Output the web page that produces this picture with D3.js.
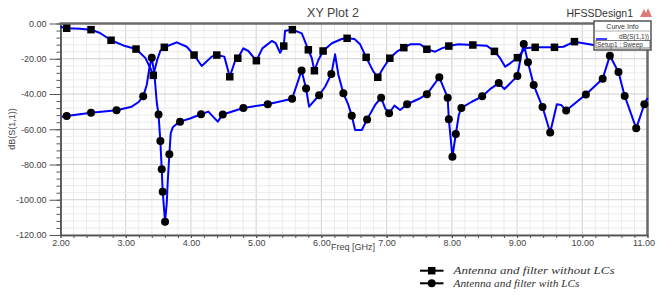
<!DOCTYPE html>
<html>
<head>
<meta charset="utf-8">
<script src="https://cdn.jsdelivr.net/npm/d3@7"></script>
<style>
body { margin: 0; background: #fff; }
svg { display: block; font-family: "Liberation Sans", Arial, sans-serif; }
</style>
</head>
<body>
<svg id="chart" width="657" height="295"></svg>
<script>
// tick values
const xMajorTicks = [2, 3, 4, 5, 6, 7, 8, 9, 10, 11];
const yMajorTicks = [0, -20, -40, -60, -80, -100, -120];

// series: [freq GHz, dB]
const lineNoLC = [
    [2.0, -1.8], [2.095, -2.7], [2.3, -3.0], [2.468, -3.5], [2.606, -5.4], [2.775, -9.5],
    [2.99, -12.8], [3.158, -14.5], [3.30, -19.5], [3.38, -25.5], [3.423, -29.4], [3.48, -21.0],
    [3.53, -15.5], [3.592, -13.5], [3.782, -10.7], [3.936, -13.2], [4.048, -17.9], [4.166, -24.1],
    [4.319, -18.8], [4.396, -17.9], [4.512, -18.8], [4.595, -30.2], [4.676, -21.3], [4.718, -19.7],
    [4.804, -14.1], [4.88, -15.6], [5.003, -21.1], [5.095, -14.1], [5.239, -9.9], [5.30, -11.2],
    [5.367, -16.6], [5.423, -12.8], [5.443, -4.1], [5.555, -3.5], [5.70, -5.6], [5.75, -10.3],
    [5.80, -14.9], [5.853, -19.7], [5.893, -26.8], [5.954, -20.7], [6.026, -15.6], [6.16, -11.2],
    [6.313, -8.8], [6.394, -8.4], [6.506, -8.8], [6.594, -11.8], [6.686, -19.2], [6.798, -27.3],
    [6.865, -30.5], [6.951, -25.1], [7.049, -19.7], [7.156, -16.0], [7.264, -13.7], [7.36, -11.8],
    [7.514, -11.8], [7.617, -14.6], [7.744, -16.0], [7.847, -14.1], [7.954, -12.8], [8.10, -11.8],
    [8.322, -12.2], [8.537, -12.6], [8.653, -15.8], [8.741, -19.7], [8.818, -24.5], [8.894, -22.6],
    [9.006, -19.4], [9.124, -14.1], [9.278, -13.5], [9.574, -13.5], [9.712, -13.2], [9.88, -10.3],
    [10.018, -11.2], [10.172, -12.2], [10.5, -12.5], [11.0, -12.0]
];
const markersNoLC = [
    [2.095, -2.7], [2.468, -3.5], [2.775, -9.5], [3.158, -14.5], [3.423, -29.4], [3.592, -13.5],
    [4.048, -17.9], [4.396, -17.9], [4.595, -30.2], [4.718, -19.7], [5.003, -21.1], [5.423, -12.8],
    [5.555, -3.5], [5.80, -14.9], [5.893, -26.8], [6.026, -15.6], [6.394, -8.4], [6.686, -19.2],
    [6.865, -30.5], [7.049, -19.7], [7.264, -13.7], [7.617, -14.6], [7.954, -12.8], [8.322, -12.2],
    [8.653, -15.8], [9.006, -19.4], [9.278, -13.5], [9.574, -13.5], [9.88, -10.3]
];
const lineWithLC = [
    [2.018, -52.9], [2.095, -52.5], [2.468, -50.6], [2.859, -49.2], [3.092, -47.2], [3.193, -44.7],
    [3.268, -41.3], [3.322, -34.9], [3.362, -25.4], [3.399, -19.4], [3.439, -28.3], [3.475, -44.4],
    [3.503, -51.7], [3.531, -66.7], [3.552, -82.7], [3.567, -95.4], [3.603, -112.5], [3.629, -102.0],
    [3.644, -89.8], [3.669, -74.2], [3.69, -62.3], [3.721, -58.9], [3.782, -57.0], [3.833, -55.7],
    [3.986, -53.9], [4.155, -51.5], [4.267, -50.0], [4.411, -55.7], [4.488, -51.6], [4.804, -47.9],
    [5.178, -45.8], [5.551, -42.7], [5.696, -26.7], [5.765, -36.9], [5.811, -47.2], [5.965, -40.7],
    [6.057, -35.9], [6.152, -28.7], [6.21, -17.5], [6.261, -29.2], [6.337, -39.6], [6.414, -46.2],
    [6.466, -52.4], [6.517, -60.4], [6.62, -60.4], [6.701, -54.4], [6.824, -46.2], [6.916, -42.1],
    [6.978, -48.1], [7.038, -50.9], [7.12, -46.6], [7.207, -49.1], [7.314, -45.8], [7.514, -42.4],
    [7.617, -40.2], [7.808, -30.5], [7.936, -42.1], [7.954, -54.3], [8.009, -75.6], [8.061, -62.7],
    [8.107, -51.9], [8.146, -47.9], [8.307, -44.4], [8.465, -41.3], [8.603, -36.8], [8.719, -33.8],
    [8.807, -37.2], [8.92, -33.0], [9.005, -29.8], [9.063, -17.9], [9.103, -11.6], [9.167, -22.0],
    [9.255, -34.9], [9.39, -47.4], [9.508, -61.8], [9.61, -45.8], [9.676, -46.2], [9.753, -49.4],
    [10.055, -40.3], [10.313, -31.3], [10.423, -18.3], [10.555, -27.5], [10.65, -41.1], [10.827, -59.5],
    [10.952, -45.8], [11.0, -42.3]
];
const markersWithLC = [
    [2.095, -52.5], [2.468, -50.6], [2.859, -49.2], [3.268, -41.3], [3.399, -19.4], [3.503, -51.7],
    [3.531, -66.7], [3.552, -82.7], [3.567, -95.4], [3.603, -112.5], [3.669, -74.2], [3.833, -55.7],
    [4.155, -51.5], [4.488, -51.6], [4.804, -47.9], [5.178, -45.8], [5.551, -42.7], [5.696, -26.7],
    [5.765, -36.9], [5.965, -40.7], [6.152, -28.7], [6.337, -39.6], [6.466, -52.4], [6.701, -54.4],
    [6.916, -42.1], [7.038, -50.9], [7.314, -45.8], [7.617, -40.2], [7.808, -30.5], [7.936, -42.1],
    [7.954, -54.3], [8.009, -75.6], [8.061, -62.7], [8.146, -47.9], [8.465, -41.3], [8.719, -33.8],
    [9.005, -29.8], [9.103, -11.6], [9.167, -22.0], [9.255, -34.9], [9.39, -47.4], [9.508, -61.8],
    [9.753, -49.4], [10.055, -40.3], [10.313, -31.3], [10.423, -18.3], [10.555, -27.5], [10.65, -41.1],
    [10.827, -59.5], [10.952, -45.8]
];
const seriesNames = ["Antenna and filter without LCs", "Antenna and filter with LCs"];

let svg = d3.select("#chart");

let x = d3.scaleLinear().domain([2, 11]).range([60.5, 647.5]);
let y = d3.scaleLinear().domain([-120, 0]).range([235, 23.5]);

// grid: minor every 0.2 GHz / 4 dB, major every 1 GHz / 20 dB
let xGrid = d3.range(0, 46).map(i => 2 + i * 0.2);
let yGrid = d3.range(0, 31).map(i => -i * 4);

let grid = svg.append("g");
grid.selectAll("line.gx")
    .data(xGrid)
    .enter().append("line")
    .attr("x1", d => x(d)).attr("x2", d => x(d))
    .attr("y1", y(0)).attr("y2", y(-120))
    .attr("stroke", (d, i) => i % 5 === 0 ? "#cfcfcf" : "#ebebeb")
    .attr("stroke-width", 1);
grid.selectAll("line.gy")
    .data(yGrid)
    .enter().append("line")
    .attr("x1", x(2)).attr("x2", x(11))
    .attr("y1", d => y(d)).attr("y2", d => y(d))
    .attr("stroke", (d, i) => i % 5 === 0 ? "#cfcfcf" : "#ebebeb")
    .attr("stroke-width", 1);

// axes
let yMinor = svg.append("g")
    .attr("transform", "translate(" + x(2) + ",0)")
    .call(d3.axisLeft(y).tickValues(yGrid).tickSize(4).tickSizeOuter(0).tickFormat(""));
let yAxis = svg.append("g")
    .attr("transform", "translate(" + x(2) + ",0)")
    .call(d3.axisLeft(y).tickValues(yMajorTicks).tickSize(11).tickSizeOuter(0).tickPadding(3)
        .tickFormat(d => d.toFixed(2)));
let xMinor = svg.append("g")
    .attr("transform", "translate(0," + y(-120) + ")")
    .call(d3.axisBottom(x).tickValues(xGrid).tickSize(3).tickSizeOuter(0).tickFormat(""));
let xAxis = svg.append("g")
    .attr("transform", "translate(0," + y(-120) + ")")
    .call(d3.axisBottom(x).tickValues(xMajorTicks).tickSize(3).tickSizeOuter(0).tickPadding(2)
        .tickFormat(d => d.toFixed(2)));

[yMinor, yAxis, xMinor, xAxis].forEach(a => {
    a.select(".domain").attr("stroke", "#555").attr("stroke-width", 1.5);
    a.selectAll(".tick line").attr("stroke", "#555");
    a.selectAll("text").attr("font-size", 9).attr("fill", "#444")
        .attr("font-family", "'Liberation Sans', Arial, sans-serif");
});
// last label sits against the page edge
xAxis.selectAll(".tick text").filter(d => d === 11).attr("dx", -4);

// top and right frame
svg.append("line")
    .attr("x1", x(2) - 1).attr("x2", x(11) + 1)
    .attr("y1", y(0)).attr("y2", y(0))
    .attr("stroke", "#6a6a6a").attr("stroke-width", 2.5);
svg.append("line")
    .attr("x1", x(11)).attr("x2", x(11))
    .attr("y1", y(0)).attr("y2", y(-120))
    .attr("stroke", "#6a6a6a").attr("stroke-width", 2.5);

// curves
let line = d3.line().x(d => x(d[0])).y(d => y(d[1]));
[lineNoLC, lineWithLC].forEach(data => {
    svg.append("path")
        .datum(data)
        .attr("d", line)
        .attr("fill", "none")
        .attr("stroke", "#0000ff")
        .attr("stroke-width", 2)
        .attr("stroke-linejoin", "round");
});

// markers
svg.append("g").selectAll("rect")
    .data(markersNoLC)
    .enter().append("rect")
    .attr("x", d => x(d[0]) - 3.75)
    .attr("y", d => y(d[1]) - 3.75)
    .attr("width", 7.5).attr("height", 7.5)
    .attr("fill", "#000");
svg.append("g").selectAll("circle")
    .data(markersWithLC)
    .enter().append("circle")
    .attr("cx", d => x(d[0]))
    .attr("cy", d => y(d[1]))
    .attr("r", 4)
    .attr("fill", "#000");

// titles
svg.append("text")
    .attr("x", 333).attr("y", 17)
    .attr("text-anchor", "middle")
    .attr("font-size", 12.5).attr("fill", "#444")
    .text("XY Plot 2");
svg.append("text")
    .attr("x", 633).attr("y", 17)
    .attr("text-anchor", "end")
    .attr("font-size", 10.5).attr("fill", "#333")
    .text("HFSSDesign1");
svg.append("path")
    .attr("d", "M640,17 L644,9 L646,13 L648,8 L652,17 Z")
    .attr("fill", "#d04040").attr("opacity", 0.7);

svg.append("text")
    .attr("transform", "translate(15,129) rotate(-90)")
    .attr("text-anchor", "middle")
    .attr("font-size", 9).attr("fill", "#444")
    .text("dB(S(1,1))");
svg.append("text")
    .attr("x", 353).attr("y", 249.5)
    .attr("text-anchor", "middle")
    .attr("font-size", 9).attr("fill", "#444")
    .text("Freq [GHz]");

// curve info box
let info = svg.append("g");
info.append("rect")
    .attr("x", 594).attr("y", 21).attr("width", 57).attr("height", 29)
    .attr("fill", "#fff").attr("stroke", "#555").attr("stroke-width", 1.5);
info.append("text")
    .attr("x", 622.5).attr("y", 28.5)
    .attr("text-anchor", "middle")
    .attr("font-size", 7).attr("fill", "#333")
    .text("Curve Info");
info.append("line")
    .attr("x1", 594).attr("x2", 651).attr("y1", 31).attr("y2", 31)
    .attr("stroke", "#999").attr("stroke-width", 0.8);
info.append("line")
    .attr("x1", 596).attr("x2", 607).attr("y1", 39).attr("y2", 39)
    .attr("stroke", "#0000ff").attr("stroke-width", 1.5);
info.append("text")
    .attr("x", 649).attr("y", 39)
    .attr("text-anchor", "end")
    .attr("font-size", 6.5).attr("fill", "#333")
    .text("dB(S(1,1))");
info.append("rect")
    .attr("x", 596).attr("y", 40.5).attr("width", 54).attr("height", 7.5)
    .attr("fill", "none").attr("stroke", "#444").attr("stroke-width", 0.7);
info.append("text")
    .attr("x", 597).attr("y", 46.8)
    .attr("font-size", 6.5).attr("fill", "#333")
    .text("Setup1 : Sweep");

// series legend
let legend = svg.append("g");
let rows = [270.7, 283.3];
seriesNames.forEach((name, i) => {
    legend.append("line")
        .attr("x1", 420).attr("x2", 443.5)
        .attr("y1", rows[i]).attr("y2", rows[i])
        .attr("stroke", "#000").attr("stroke-width", 2);
    if (i === 0) {
        legend.append("rect")
            .attr("x", 431.7 - 3.75).attr("y", rows[i] - 3.75)
            .attr("width", 7.5).attr("height", 7.5)
            .attr("fill", "#000");
    } else {
        legend.append("circle")
            .attr("cx", 431.7).attr("cy", rows[i]).attr("r", 4)
            .attr("fill", "#000");
    }
    legend.append("text")
        .attr("x", 453.5).attr("y", rows[i] + 3.5)
        .attr("font-family", "'Liberation Serif', 'DejaVu Serif', serif")
        .attr("font-style", "italic")
        .attr("font-size", 11)
        .attr("fill", "#333")
        .attr("textLength", i === 0 ? 161 : 126)
        .attr("lengthAdjust", "spacingAndGlyphs")
        .text(name);
});
</script>
</body>
</html>
